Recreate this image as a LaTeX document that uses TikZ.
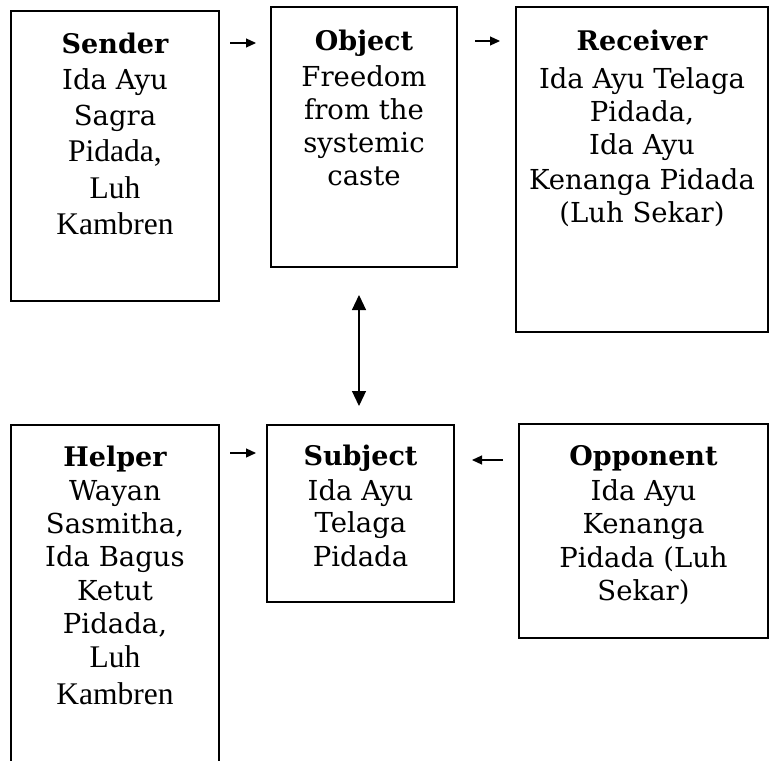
\documentclass[tikz,border=0pt]{standalone}
\usepackage{fontspec}
\setmainfont{DejaVu Serif}
\newfontfamily\timesf{Liberation Serif}
\usetikzlibrary{arrows.meta}
\begin{document}
\begin{tikzpicture}[x=1pt,y=-1pt,
  box/.style={draw, line width=1.8pt, rectangle, inner sep=0pt, outer sep=0pt, anchor=north west},
  ln/.style={anchor=base, inner sep=0pt, font=\fontsize{27.5}{32}\selectfont},
  tm/.style={anchor=base, inner sep=0pt, font=\timesf\fontsize{31.5}{36}\selectfont},
  ttl/.style={anchor=base, inner sep=0pt, font=\bfseries\fontsize{27}{32}\selectfont},
  harr/.style={-{Triangle[length=10pt,width=9pt]}, line width=1.2pt},
  varr/.style={{Triangle[length=15pt,width=14pt]}-{Triangle[length=15pt,width=14pt]}, line width=1.2pt},
]
\useasboundingbox (0,0) rectangle (770,760);
\clip (0,0) rectangle (770,760);
\fill[white] (0,0) rectangle (770,760);

% boxes
\node[box, minimum width=208pt, minimum height=290pt] (sender) at (11,11) {};
\node[box, minimum width=186pt, minimum height=260pt] (object) at (271,7) {};
\node[box, minimum width=252pt, minimum height=325pt] (receiver) at (516,7) {};
\node[box, minimum width=208pt, minimum height=380pt] (helper) at (11,425) {};
\node[box, minimum width=187pt, minimum height=177pt] (subject) at (267,425) {};
\node[box, minimum width=249pt, minimum height=214pt] (opponent) at (519,424) {};

% Sender text
\node[ttl] (s0) at (115,53) {Sender};
\node[ln] (s1) at (115,89) {Ida Ayu};
\node[ln] (s2) at (115,125) {Sagra};
\node[tm] (s3) at (115,161) {Pidada,};
\node[tm] (s4) at (115,198) {Luh};
\node[tm] (s5) at (115,234) {Kambren};

% Object text
\node[ttl] (o0) at (364,51) {Object};
\node[ln] (o1) at (364,86) {Freedom};
\node[ln] (o2) at (364,119) {from the};
\node[ln] (o3) at (364,152) {systemic};
\node[ln] (o4) at (364,185) {caste};

% Receiver text
\node[ttl] (r0) at (642,51) {Receiver};
\node[ln] (r1) at (642,88) {Ida Ayu Telaga};
\node[ln] (r2) at (642,121) {Pidada,};
\node[ln] (r3) at (642,154) {Ida Ayu};
\node[ln] (r4) at (642,189) {Kenanga Pidada};
\node[ln] (r5) at (642,222) {(Luh Sekar)};

% Helper text
\node[ttl] (h0) at (115,466) {Helper};
\node[ln] (h1) at (115,500) {Wayan};
\node[ln] (h2) at (115,533) {Sasmitha,};
\node[ln] (h3) at (115,566) {Ida Bagus};
\node[ln] (h4) at (115,600) {Ketut};
\node[ln] (h5) at (115,633) {Pidada,};
\node[tm] (h6) at (115,667) {Luh};
\node[tm] (h7) at (115,704) {Kambren};

% Subject text
\node[ttl] (u0) at (360.5,465) {Subject};
\node[ln] (u1) at (360.5,500) {Ida Ayu};
\node[ln] (u2) at (360.5,532) {Telaga};
\node[ln] (u3) at (360.5,566) {Pidada};

% Opponent text
\node[ttl] (p0) at (643.5,465) {Opponent};
\node[ln] (p1) at (643.5,500) {Ida Ayu};
\node[ln] (p2) at (643.5,533) {Kenanga};
\node[ln] (p3) at (643.5,567) {Pidada (Luh};
\node[ln] (p4) at (643.5,600) {Sekar)};

% arrows
\coordinate (a1s) at (230,43);   \coordinate (a1e) at (256,43);
\coordinate (a2s) at (475,41);   \coordinate (a2e) at (500,41);
\coordinate (a3s) at (230,453);  \coordinate (a3e) at (256,453);
\coordinate (a4s) at (503,460);  \coordinate (a4e) at (472,460);
\coordinate (vt) at (359,295);   \coordinate (vb) at (359,406);
\draw[harr] (a1s) -- (a1e);
\draw[harr] (a2s) -- (a2e);
\draw[harr] (a3s) -- (a3e);
\draw[harr] (a4s) -- (a4e);
\draw[varr] (vt) -- (vb);
\end{tikzpicture}
\end{document}
